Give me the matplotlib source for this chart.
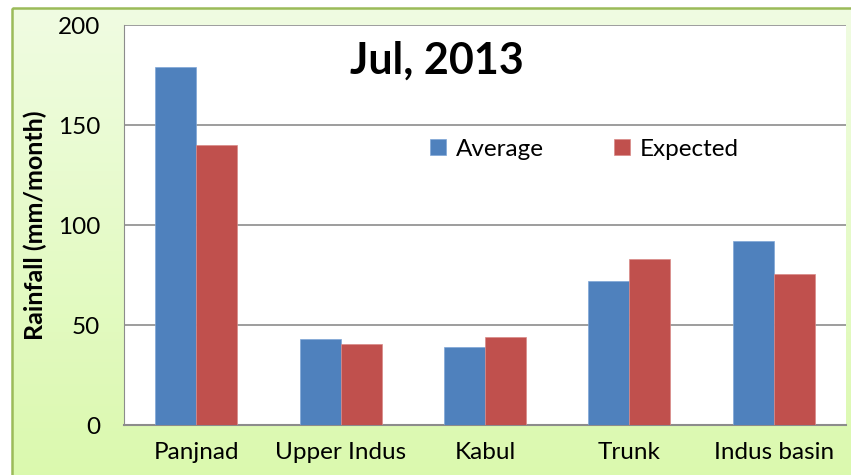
import numpy as np
import matplotlib
matplotlib.use("Agg")
import matplotlib.pyplot as plt
from matplotlib.patches import Rectangle

categories = ["Panjnad", "Upper Indus", "Kabul", "Trunk", "Indus basin"]
average = [179, 43, 39, 72, 92]
expected = [140, 40.5, 44, 83, 75.5]
series_names = ["Average", "Expected"]
yticks = [0, 50, 100, 150, 200]

FONT = ["Lato", "DejaVu Sans"]
plt.rcParams["font.family"] = FONT

W, H = 851, 475
fig = plt.figure(figsize=(W / 100, H / 100), dpi=100)
fig.patch.set_facecolor("white")

# background gradient panel
bg = fig.add_axes([0, 0, 1, 1], zorder=-5)
bg.set_xlim(0, W)
bg.set_ylim(H, 0)
bg.axis("off")
top = np.array([240, 252, 226]) / 255
bot = np.array([218, 249, 172]) / 255
t = np.linspace(0, 1, 256)[:, None, None]
grad = top * (1 - t) + bot * t
grad = np.repeat(grad, 2, axis=1)
bg.imshow(grad, extent=[12, W + 20, H + 20, 8], aspect="auto", zorder=0)
bg.add_patch(Rectangle((12, 8), W + 20, H + 20, fill=False,
                       edgecolor="#9BBB59", linewidth=1.8, zorder=1))

ax = fig.add_axes([124 / W, 50 / H, 722 / W, 400 / H])
ax.set_facecolor("white")
x = np.arange(len(categories))
bw = 0.284
blue = "#4F81BD"
red = "#C0504D"
ax.bar(x - bw / 2, average, bw, color=blue, edgecolor="#7FA6D6", linewidth=0.5,
       label=series_names[0], zorder=3)
ax.bar(x + bw / 2, expected, bw, color=red, edgecolor="#D98A88", linewidth=0.5,
       label=series_names[1], zorder=3)

ax.set_xlim(-0.5, len(categories) - 0.5)
ax.set_ylim(0, 200)
ax.set_yticks(yticks)
ax.set_yticklabels([str(v) for v in yticks], fontsize=17.5)
ax.set_xticks(x)
ax.set_xticklabels(categories, fontsize=17.5)
ax.tick_params(axis="both", length=0)
ax.tick_params(axis="y", pad=17)
ax.tick_params(axis="x", pad=12)
ax.grid(axis="y", color="#8C8C8C", linewidth=1.2, zorder=0)
for s in ["top", "right"]:
    ax.spines[s].set_visible(False)
ax.spines["left"].set_color("#8C8C8C")
ax.spines["bottom"].set_color("#8C8C8C")
ax.spines["bottom"].set_linewidth(1.5)

ax.set_ylabel("Rainfall (mm/month)", fontsize=18, fontweight="bold")
ax.yaxis.set_label_coords(-0.1066, 0.5)
ax.text(0.434, 0.91, "Jul, 2013", transform=ax.transAxes, ha="center", va="center",
        fontsize=31, fontweight="bold")

ax.legend(loc="center", bbox_to_anchor=(0.638, 0.69), ncol=2, frameon=False,
          fontsize=17.5, handlelength=0.65, handleheight=0.65, handletextpad=0.4,
          columnspacing=2.9)

fig.savefig("out.png", dpi=100, facecolor=fig.get_facecolor())
